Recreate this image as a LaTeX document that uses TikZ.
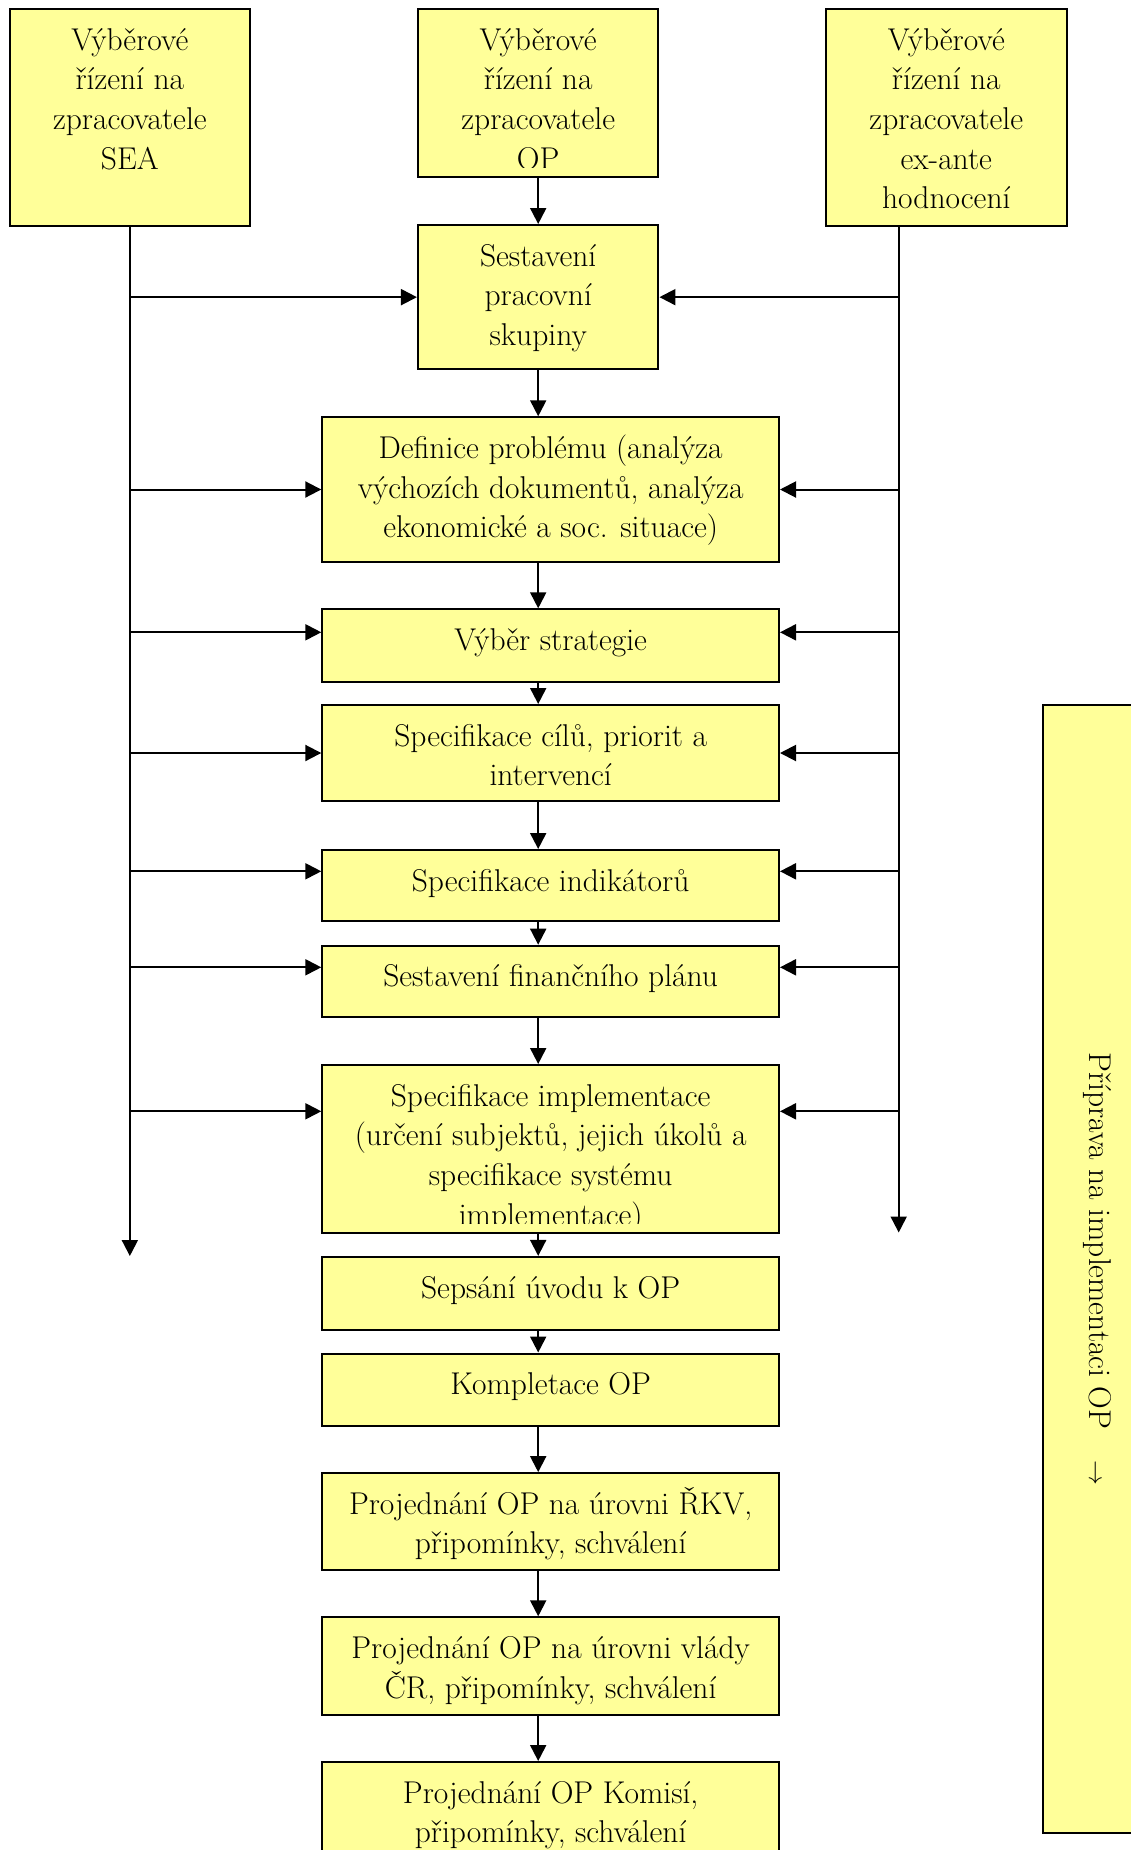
\documentclass[tikz,border=0pt]{standalone}
\usetikzlibrary{arrows.meta,positioning}
\definecolor{paleyellow}{HTML}{FFFF99}
\tikzstyle{box}=[draw=black,fill=paleyellow,line width=2pt,inner sep=0pt]
\tikzstyle{topbox}=[box,minimum width=240.5pt]
\tikzstyle{stepbox}=[box,minimum width=456.7pt]
\tikzstyle{txt}=[anchor=north,inner sep=0pt,align=center,font=\fontsize{31.5}{39.6}\selectfont]
\tikzstyle{flow}=[line width=2pt,-{Triangle[width=16pt,length=16pt]}]
\newcommand{\firstline}{\rule{0pt}{30pt}}

\begin{document}
\begin{tikzpicture}[x=1pt,y=-1pt]
  \useasboundingbox (0,0) rectangle (1131,1850);
  \clip (0,0) rectangle (1131,1850);
  \fill[white] (0,0) rectangle (1131,1850);
% selection procedures
  \node[topbox,minimum height=216.7pt] (sea) at (129.85,117.35) {};
  \node[topbox,minimum height=167.7pt] (op)  at (538.2,92.85) {};
  \node[topbox,minimum height=216.7pt] (exa) at (946.3,117.35) {};
  \node[topbox,minimum height=144.3pt] (work) at (538.2,297.15) {};
% steps
  \node[stepbox,minimum height=144.4pt] (defi)   at (550.65,489.5) {};
  \node[stepbox,minimum height=72.4pt]  (vyber)  at (550.65,645.5) {};
  \node[stepbox,minimum height=96pt]    (cile)   at (550.65,753) {};
  \node[stepbox,minimum height=70.7pt]  (indi)   at (550.65,885.35) {};
  \node[stepbox,minimum height=71.6pt]  (fin)    at (550.65,981.5) {};
  \node[stepbox,minimum height=167.7pt] (impl)   at (550.65,1148.85) {};
  \node[stepbox,minimum height=72.8pt]  (uvod)   at (550.65,1293.3) {};
  \node[stepbox,minimum height=72.9pt]  (komp)   at (550.65,1389.95) {};
  \node[stepbox,minimum height=97pt]    (rkv)    at (550.65,1521.6) {};
  \node[stepbox,minimum height=97.7pt]  (vlada)  at (550.65,1666.15) {};
  \node[stepbox,minimum height=96pt]    (komise) at (550.65,1810) {};
% side bar
  \node[box,minimum width=101pt,minimum height=1128pt] (side) at (1093.1,1269) {};
  \node[txt,anchor=center,rotate=-90] (sidetxt) at ([xshift=4pt]side.center) {Příprava na implementaci OP\quad$\rightarrow$};
% texts
  \node[txt,below=12pt of sea.north] (seatxt) {\firstline Výběrové\\řízení na\\zpracovatele\\SEA};
  \begin{scope}
    \clip (op.north west) rectangle ([yshift=10pt]op.south east);
    \node[txt,below=12pt of op.north] (optxt) {\firstline Výběrové\\řízení na\\zpracovatele\\OP};
  \end{scope}
  \node[txt,below=12pt of exa.north] (exatxt) {\firstline Výběrové\\řízení na\\zpracovatele\\ex-ante\\hodnocení};
  \node[txt,below=12pt of work.north] (worktxt) {\firstline Sestavení\\pracovní\\skupiny};
  \node[txt,below=12pt of defi.north] (defitxt) {\firstline Definice problému (analýza\\výchozích dokumentů, analýza\\ekonomické a soc. situace)};
  \node[txt,below=12pt of vyber.north] (vybertxt) {\firstline Výběr strategie};
  \node[txt,below=12pt of cile.north] (ciletxt) {\firstline Specifikace cílů, priorit a\\intervencí};
  \node[txt,below=12pt of indi.north] (inditxt) {\firstline Specifikace indikátorů};
  \node[txt,below=12pt of fin.north] (fintxt) {\firstline Sestavení finančního plánu};
  \begin{scope}
    \clip (impl.north west) rectangle ([yshift=10pt]impl.south east);
    \node[txt,below=12pt of impl.north] (impltxt) {\firstline Specifikace implementace\\(určení subjektů, jejich úkolů a\\specifikace systému\\implementace)};
  \end{scope}
  \node[txt,below=12pt of uvod.north] (uvodtxt) {\firstline Sepsání úvodu k OP};
  \node[txt,below=12pt of komp.north] (komptxt) {\firstline Kompletace OP};
  \node[txt,below=12pt of rkv.north] (rkvtxt) {\firstline Projednání OP na úrovni ŘKV,\\připomínky, schválení};
  \node[txt,below=12pt of vlada.north] (vladatxt) {\firstline Projednání OP na úrovni vlády\\ČR, připomínky, schválení};
  \node[txt,below=12pt of komise.north] (komisetxt) {\firstline Projednání OP Komisí,\\připomínky, schválení};
% main flow
  \draw[flow] (op) -- (work);
  \draw[flow] (work.south) -- (work.south |- defi.north);
  \draw[flow] (defi.south -| work.south) -- (vyber.north -| work.south);
  \draw[flow] (vyber.south -| work.south) -- (cile.north -| work.south);
  \draw[flow] (cile.south -| work.south) -- (indi.north -| work.south);
  \draw[flow] (indi.south -| work.south) -- (fin.north -| work.south);
  \draw[flow] (fin.south -| work.south) -- (impl.north -| work.south);
  \draw[flow] (impl.south -| work.south) -- (uvod.north -| work.south);
  \draw[flow] (uvod.south -| work.south) -- (komp.north -| work.south);
  \draw[flow] (komp.south -| work.south) -- (rkv.north -| work.south);
  \draw[flow] (rkv.south -| work.south) -- (vlada.north -| work.south);
  \draw[flow] (vlada.south -| work.south) -- (komise.north -| work.south);
% side lines
  \coordinate (lend) at (129.85,1256);
  \coordinate (rtop) at (898.7,225.7);
  \coordinate (rend) at (898.7,1232.5);
  \draw[flow] (sea.south) -- (lend);
  \draw[flow] (rtop) -- (rend);
  \coordinate (vyber-in) at ([yshift=-24pt]vyber.north west);
  \coordinate (indi-in)  at ([yshift=-22.3pt]indi.north west);
  \coordinate (fin-in)   at ([yshift=-22.6pt]fin.north west);
  \coordinate (impl-in)  at ([yshift=-47.3pt]impl.north west);
  \draw[flow] (sea.south |- work.west) -- (work.west);
  \draw[flow] (rtop |- work.east) -- (work.east);
  \draw[flow] (sea.south |- defi.west) -- (defi.west);
  \draw[flow] (rtop |- defi.east) -- (defi.east);
  \draw[flow] (sea.south |- vyber-in) -- (vyber-in);
  \draw[flow] (rtop |- vyber-in) -- (vyber-in -| vyber.east);
  \draw[flow] (sea.south |- cile.west) -- (cile.west);
  \draw[flow] (rtop |- cile.east) -- (cile.east);
  \draw[flow] (sea.south |- indi-in) -- (indi-in);
  \draw[flow] (rtop |- indi-in) -- (indi-in -| indi.east);
  \draw[flow] (sea.south |- fin-in) -- (fin-in);
  \draw[flow] (rtop |- fin-in) -- (fin-in -| fin.east);
  \draw[flow] (sea.south |- impl-in) -- (impl-in);
  \draw[flow] (rtop |- impl-in) -- (impl-in -| impl.east);
\end{tikzpicture}
\end{document}
